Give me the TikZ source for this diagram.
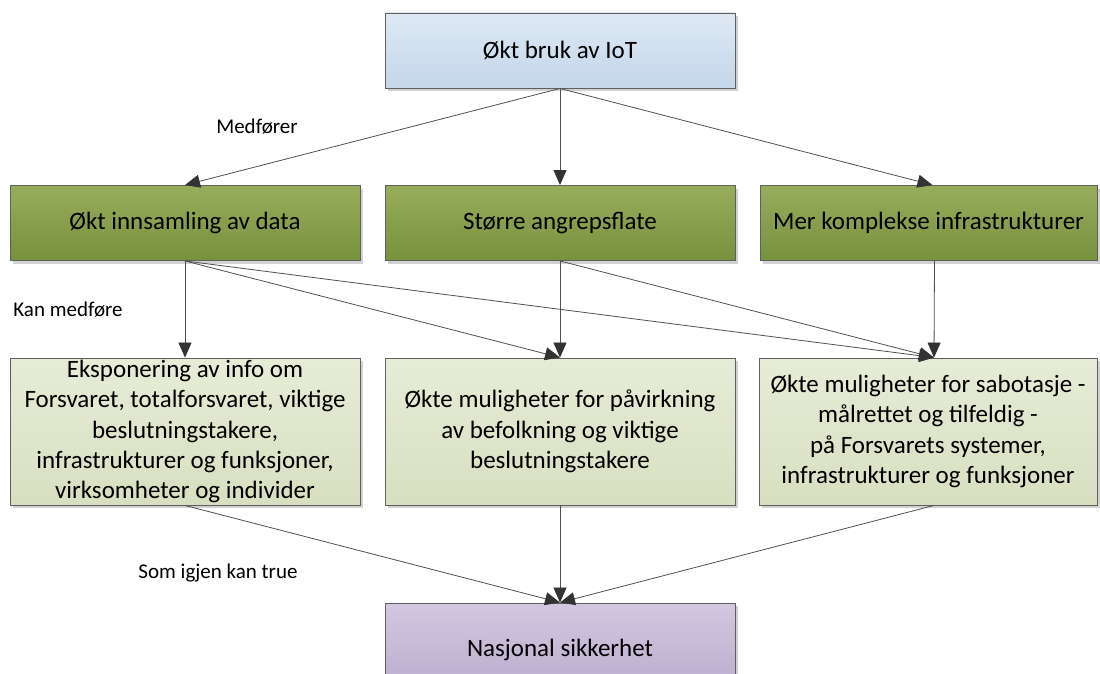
\documentclass[tikz,border=0pt]{standalone}
\usepackage{fontspec}
\setmainfont{Carlito}
\usetikzlibrary{arrows.meta,shadows,calc}
\definecolor{edgegray}{HTML}{5F5F5F}
\definecolor{linegray}{HTML}{505050}
\definecolor{tipgray}{HTML}{333333}
\definecolor{blueTop}{HTML}{DEE9F4}
\definecolor{blueBot}{HTML}{C4D6EA}
\definecolor{greenTop}{HTML}{97AD5B}
\definecolor{greenBot}{HTML}{77913D}
\definecolor{lgreenTop}{HTML}{E7ECD7}
\definecolor{lgreenBot}{HTML}{D8DFC0}
\definecolor{purpTop}{HTML}{D2C8E0}
\definecolor{purpBot}{HTML}{B9AACD}
\tikzset{
  box/.style={rectangle, draw=edgegray, line width=0.9pt, inner sep=0pt,
    align=center, font=\fontsize{25}{30.4}\selectfont, text=black,
    drop shadow={shadow xshift=3pt, shadow yshift=-3pt, opacity=0.18, fill=black}},
  topbox/.style={box, top color=blueTop, bottom color=blueBot},
  midbox/.style={box, top color=greenTop, bottom color=greenBot},
  lowbox/.style={box, top color=lgreenTop, bottom color=lgreenBot},
  botbox/.style={box, top color=purpTop, bottom color=purpBot},
  conn/.style={draw=linegray, line width=0.8pt,
    -{Triangle[length=15pt,width=13pt,color=tipgray]}},
  lbl/.style={font=\fontsize{21}{25}\selectfont, text=black, inner sep=0pt}
}
\begin{document}
\begin{tikzpicture}[x=1pt,y=-1pt]
\useasboundingbox (0,0) rectangle (1100,674);
\clip (0,0) rectangle (1100,674);
% top
\node[topbox, minimum width=350pt, minimum height=75pt] (top) at (560,50.5) {Økt bruk av IoT};
% row 2
\node[midbox, minimum width=350pt, minimum height=75pt] (a1) at (185,223) {Økt innsamling av data};
\node[midbox, minimum width=350pt, minimum height=75pt] (a2) at (560,223) {Større angrepsflate};
\node[midbox, minimum width=337pt, minimum height=75pt] (a3) at (928.5,223) {Mer komplekse infrastrukturer};
% row 3
\node[lowbox, minimum width=350pt, minimum height=147pt] (b1) at (185,431.5) {Eksponering av info om\\Forsvaret, totalforsvaret, viktige\\beslutningstakere,\\infrastrukturer og funksjoner,\\virksomheter og individer};
\node[lowbox, minimum width=350pt, minimum height=147pt] (b2) at (560,431.5) {Økte muligheter for påvirkning\\av befolkning og viktige\\beslutningstakere};
\node[lowbox, minimum width=338pt, minimum height=147pt] (b3) at (928,431.5) {Økte muligheter for sabotasje -\\målrettet og tilfeldig -\\på Forsvarets systemer,\\infrastrukturer og funksjoner};
% bottom
\node[botbox, minimum width=350pt, minimum height=94pt] (nat) at (560,650) {Nasjonal sikkerhet};
% labels
\node[lbl] (l1) at (257,127) {Medfører};
\node[lbl] (l2) at (68,310) {Kan medføre};
\node[lbl] (l3) at (218,573) {Som igjen kan true};
% connectors
\coordinate (a3in) at ([xshift=4pt]a3.north);
\coordinate (a3out) at ([xshift=6pt]a3.south);
\coordinate (b3in) at ([xshift=6pt]b3.north);
\coordinate (b3out) at ([xshift=6pt]b3.south);
\draw[conn] (top.south) -- (a1.north);
\draw[conn] (top.south) -- (a2.north);
\draw[conn] (top.south) -- (a3in);
\draw[conn] (a1.south) -- (b1.north);
\draw[conn] (a1.south) -- (b2.north);
\draw[conn] (a1.south) -- (b3in);
\draw[conn] (a2.south) -- (b2.north);
\draw[conn] (a2.south) -- (b3in);
\draw[conn] (a3out) -- (b3in);
\draw[conn] (b1.south) -- (nat.north);
\draw[conn] (b2.south) -- (nat.north);
\draw[conn] (b3out) -- (nat.north);
\end{tikzpicture}
\end{document}
